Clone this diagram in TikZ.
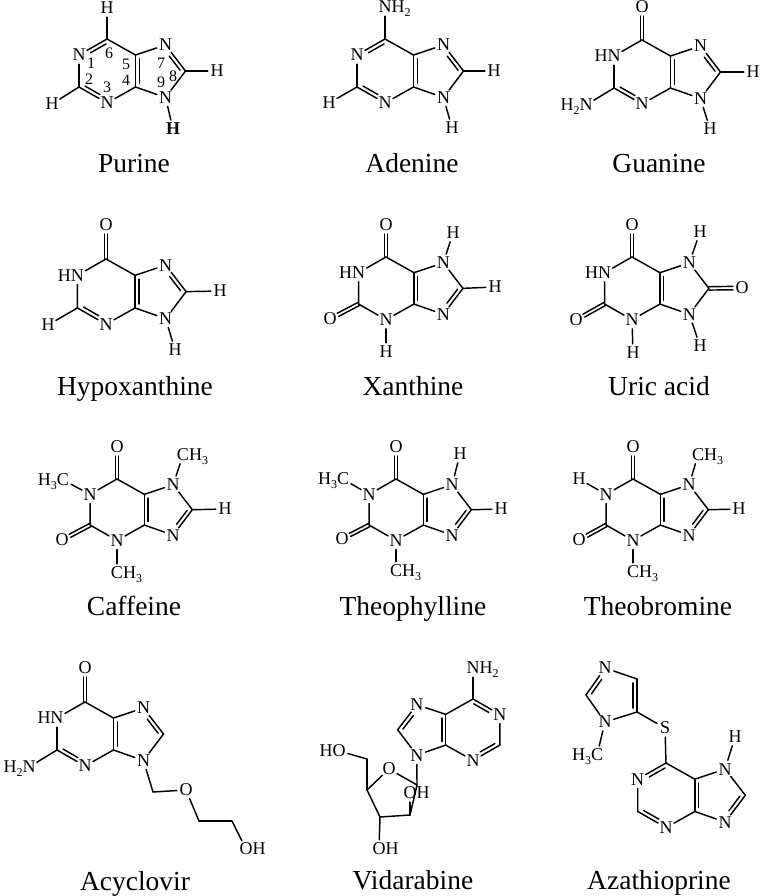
\documentclass[tikz,border=0pt]{standalone}
\usepackage{fontspec}
\setmainfont{Liberation Serif}
\usetikzlibrary{calc}
\tikzset{
  atom/.style={circle,inner sep=0pt,minimum size=18pt,text height=11.9pt,text depth=0pt,font=\fontsize{18}{20}\selectfont},
  num/.style={inner sep=0pt,font=\fontsize{16}{18}\selectfont},
  title/.style={inner sep=0pt,anchor=base,font=\fontsize{27.5}{30}\selectfont},
  bond/.style={line width=1.45pt,line cap=round,black}
}
\newcommand\sbs[1]{\raisebox{-3.5pt}{\fontsize{12}{12}\selectfont #1}}
\newcommand\Hr{\llap{H}}
\newcommand\NHH{N\rlap{H\sbs{2}}}
\newcommand\HHN{\llap{H\sbs{2}}N}
\newcommand\CHHH{C\rlap{H\sbs{3}}}
\newcommand\HHHC{\llap{H\sbs{3}}C}
\newcommand\bnd[2]{\draw[bond] (#1) -- (#2);}
% inner line of a double bond, on the left of #1 -> #2
\newcommand\dbl[4]{\draw[bond] ($(#1)!#3!(#2)!3.8pt!90:(#2)$) -- ($(#1)!#4!(#2)!3.8pt!-90:(#1)$);}
% symmetric double bond carbon #1 = atom #2
\newcommand\dbo[2]{%
  \draw[bond] ($(#1)!1.7pt!90:(#2)$) -- ($(#2)!9pt!(#1)!1.7pt!-90:(#1)$);
  \draw[bond] ($(#1)!1.7pt!-90:(#2)$) -- ($(#2)!9pt!(#1)!1.7pt!90:(#1)$);}
\newcommand\Pur[9]{%
  \begin{scope}[shift={(#2,#3)},xscale=#4,yscale=#5]
    \coordinate (#16) at (0,0);
    \node[atom] (#11) at (-28,16) {#6};
    \coordinate (#12) at (-28,48);
    \node[atom] (#13) at (0,64) {#7};
    \coordinate (#14) at (28.5,48);
    \coordinate (#15) at (28.5,16);
    \node[atom] (#17) at (58.5,6) {#8};
    \coordinate (#18) at (78.5,32);
    \node[atom] (#19) at (58.5,58.5) {#9};
    \draw[bond] (#16) -- (#11);
    \draw[bond] (#11) -- (#12);
    \draw[bond] (#12) -- (#13);
    \draw[bond] (#13) -- (#14);
    \draw[bond] (#14) -- (#15);
    \draw[bond] (#15) -- (#16);
    \draw[bond] (#15) -- (#17);
    \draw[bond] (#17) -- (#18);
    \draw[bond] (#18) -- (#19);
    \draw[bond] (#19) -- (#14);
  \end{scope}%
}
\newcommand\dA[1]{\dbl{#16}{#11}{.1}{.66}}
\newcommand\dB[1]{\dbl{#12}{#13}{.15}{.68}}
\newcommand\dC[1]{\dbl{#15}{#14}{.12}{.88}}
\newcommand\dD[1]{\dbl{#18}{#17}{.12}{.66}}
\newcommand\dE[1]{\dbl{#19}{#18}{.34}{.88}}
\begin{document}
\begin{tikzpicture}[x=1pt,y=-1pt]
\useasboundingbox (0,0) rectangle (761,896);
\fill[white] (0,0) rectangle (761,896);

% Purine
\Pur{pu}{107}{39}{1}{1}{N}{N}{N}{N}
\dA{pu}\dB{pu}\dC{pu}\dD{pu}
\node[atom] (puH6) at (107,8) {H}; \bnd{pu6}{puH6}
\node[atom] (puH2) at (52,104) {H}; \bnd{pu2}{puH2}
\node[atom] (puH8) at (217,71) {H}; \bnd{pu8}{puH8}
\node[atom] (puH9) at (173,129) {\textbf{H}}; \bnd{pu9}{puH9}
\node[num] (pun1) at (91,63) {1};
\node[num] (pun2) at (89,79) {2};
\node[num] (pun3) at (107,87) {3};
\node[num] (pun4) at (126,80) {4};
\node[num] (pun5) at (126,64) {5};
\node[num] (pun6) at (109,53) {6};
\node[num] (pun7) at (161,63) {7};
\node[num] (pun8) at (173,76) {8};
\node[num] (pun9) at (161,82) {9};
\node[title] (tpu) at (134,172) {Purine};

% Adenine
\Pur{ad}{385}{39}{1}{1}{N}{N}{N}{N}
\dA{ad}\dB{ad}\dC{ad}\dD{ad}
\node[atom] (adN6) at (385,7) {\NHH}; \bnd{ad6}{adN6}
\node[atom] (adH2) at (329,103) {H}; \bnd{ad2}{adH2}
\node[atom] (adH8) at (494,71) {H}; \bnd{ad8}{adH8}
\node[atom] (adH9) at (452,128) {H}; \bnd{ad9}{adH9}
\node[title] (tad) at (412,172) {Adenine};

% Guanine
\Pur{gu}{642}{40}{1}{1}{\Hr N}{N}{N}{N}
\dB{gu}\dC{gu}\dD{gu}
\node[atom] (guO6) at (642,7) {O}; \dbo{gu6}{guO6}
\node[atom] (guN2) at (586,105) {\HHN}; \bnd{gu2}{guN2}
\node[atom] (guH8) at (753,72) {H}; \bnd{gu8}{guH8}
\node[atom] (guH9) at (710,129) {H}; \bnd{gu9}{guH9}
\node[title] (tgu) at (659,172) {Guanine};

% Hypoxanthine
\Pur{hy}{106}{259}{1.02}{1.02}{\Hr N}{N}{N}{N}
\dB{hy}\dC{hy}\dD{hy}
\node[atom] (hyO6) at (106,225) {O}; \dbo{hy6}{hyO6}
\node[atom] (hyH2) at (48,325) {H}; \bnd{hy2}{hyH2}
\node[atom] (hyH8) at (220,291) {H}; \bnd{hy8}{hyH8}
\node[atom] (hyH9) at (175,350) {H}; \bnd{hy9}{hyH9}
\node[title] (thy) at (135,395) {Hypoxanthine};

% Xanthine
\Pur{xa}{386}{257}{.98}{.98}{\Hr N}{N}{N}{N}
\dC{xa}\dE{xa}
\node[atom] (xaO6) at (386,225) {O}; \dbo{xa6}{xaO6}
\node[atom] (xaO2) at (330,319) {O}; \dbo{xa2}{xaO2}
\node[atom] (xaH3) at (386,352) {H}; \bnd{xa3}{xaH3}
\node[atom] (xaH7) at (453,233) {H}; \bnd{xa7}{xaH7}
\node[atom] (xaH8) at (495,287) {H}; \bnd{xa8}{xaH8}
\node[title] (txa) at (413,395) {Xanthine};

% Uric acid
\Pur{ur}{632}{257}{.98}{.98}{\Hr N}{N}{N}{N}
\dC{ur}
\node[atom] (urO6) at (632,225) {O}; \dbo{ur6}{urO6}
\node[atom] (urO2) at (576,320) {O}; \dbo{ur2}{urO2}
\node[atom] (urO8) at (742,288) {O}; \dbo{ur8}{urO8}
\node[atom] (urH3) at (633,353) {H}; \bnd{ur3}{urH3}
\node[atom] (urH7) at (700,232) {H}; \bnd{ur7}{urH7}
\node[atom] (urH9) at (700,346) {H}; \bnd{ur9}{urH9}
\node[title] (tur) at (659,395) {Uric acid};

% Caffeine
\Pur{ca}{117}{479}{.96}{.96}{N}{N}{N}{N}
\dC{ca}\dE{ca}
\node[atom] (caO6) at (117,447) {O}; \dbo{ca6}{caO6}
\node[atom] (caO2) at (62,540) {O}; \dbo{ca2}{caO2}
\node[atom] (caM1) at (63,480) {\HHHC}; \bnd{ca1}{caM1}
\node[atom] (caM3) at (117,573) {\CHHH}; \bnd{ca3}{caM3}
\node[atom] (caM7) at (183,455) {\CHHH}; \bnd{ca7}{caM7}
\node[atom] (caH8) at (225,509) {H}; \bnd{ca8}{caH8}
\node[title] (tca) at (134,615) {Caffeine};

% Theophylline
\Pur{tp}{396}{479}{.96}{.96}{N}{N}{N}{N}
\dC{tp}\dE{tp}
\node[atom] (tpO6) at (396,447) {O}; \dbo{tp6}{tpO6}
\node[atom] (tpO2) at (342,539) {O}; \dbo{tp2}{tpO2}
\node[atom] (tpM1) at (343,479) {\HHHC}; \bnd{tp1}{tpM1}
\node[atom] (tpM3) at (396,571) {\CHHH}; \bnd{tp3}{tpM3}
\node[atom] (tpH7) at (460,454) {H}; \bnd{tp7}{tpH7}
\node[atom] (tpH8) at (501,509) {H}; \bnd{tp8}{tpH8}
\node[title] (ttp) at (413,615) {Theophylline};

% Theobromine
\Pur{tb}{633}{479}{.96}{.96}{N}{N}{N}{N}
\dC{tb}\dE{tb}
\node[atom] (tbO6) at (633,447) {O}; \dbo{tb6}{tbO6}
\node[atom] (tbO2) at (579,540) {O}; \dbo{tb2}{tbO2}
\node[atom] (tbH1) at (579,479) {H}; \bnd{tb1}{tbH1}
\node[atom] (tbM3) at (633,572) {\CHHH}; \bnd{tb3}{tbM3}
\node[atom] (tbM7) at (698,455) {\CHHH}; \bnd{tb7}{tbM7}
\node[atom] (tbH8) at (739,509) {H}; \bnd{tb8}{tbH8}
\node[title] (ttb) at (658,615) {Theobromine};

% Acyclovir
\Pur{ac}{85}{702}{1}{1}{\Hr N}{N}{N}{N}
\dB{ac}\dC{ac}\dD{ac}
\node[atom] (acO6) at (85,668) {O}; \dbo{ac6}{acO6}
\node[atom] (acN2) at (29,767) {\HHN}; \bnd{ac2}{acN2}
\coordinate (acC1) at (153,792);
\node[atom] (acO) at (186,790) {O};
\coordinate (acC2) at (199,821);
\coordinate (acC3) at (232,821);
\node[atom] (acOH) at (246,849) {O\rlap{H}};
\bnd{ac9}{acC1}\bnd{acC1}{acO}\bnd{acO}{acC2}\bnd{acC2}{acC3}\bnd{acC3}{acOH}
\node[title] (tac) at (135,890) {Acyclovir};

% Vidarabine
\Pur{vi}{473}{699}{-.96}{.96}{N}{N}{N}{N}
\dbl{vi1}{vi6}{.34}{.9}\dbl{vi3}{vi2}{.34}{.88}\dbl{vi4}{vi5}{.12}{.88}\dbl{vi7}{vi8}{.34}{.88}
\node[atom] (viN6) at (473,668) {\NHH}; \bnd{vi6}{viN6}
\coordinate (viC1) at (417,785);
\node[atom] (viO) at (389,769) {O};
\coordinate (viC4) at (367,790);
\coordinate (viC3) at (380,817);
\coordinate (viC2) at (410,815);
\coordinate (viC5) at (367,759);
\node[atom] (viHO) at (339,751) {\Hr O};
\node[atom] (viO3) at (379,849) {O\rlap{H}};
\node[atom] (viO2) at (410,793) {O\rlap{H}};
\bnd{vi9}{viC1}\bnd{viC1}{viO}\bnd{viO}{viC4}\bnd{viC4}{viC3}\bnd{viC3}{viC2}\bnd{viC2}{viC1}
\bnd{viC2}{viO2}\bnd{viC4}{viC5}\bnd{viC5}{viHO}\bnd{viC3}{viO3}
\node[title] (tvi) at (413,889) {Vidarabine};

% Azathioprine
\Pur{az}{666}{763}{1.01}{1.01}{N}{N}{N}{N}
\dA{az}\dB{az}\dC{az}\dE{az}
\node[atom] (azH7) at (735,737) {H}; \bnd{az7}{azH7}
\node[atom] (azS) at (665,728) {S}; \bnd{az6}{azS}
\node[atom] (imN3) at (605,668) {N};
\coordinate (imC4) at (637,679);
\coordinate (imC5) at (637,712);
\node[atom] (imN1) at (605,722) {N};
\coordinate (imC2) at (586,695);
\node[atom] (imM) at (597,755) {\HHHC};
\bnd{imN3}{imC4}\bnd{imC4}{imC5}\bnd{imC5}{imN1}\bnd{imN1}{imC2}\bnd{imC2}{imN3}
\bnd{imC5}{azS}\bnd{imN1}{imM}
\dbl{imC5}{imC4}{.12}{.88}\dbl{imN3}{imC2}{.34}{.88}
\node[title] (taz) at (659,889) {Azathioprine};
\end{tikzpicture}
\end{document}
